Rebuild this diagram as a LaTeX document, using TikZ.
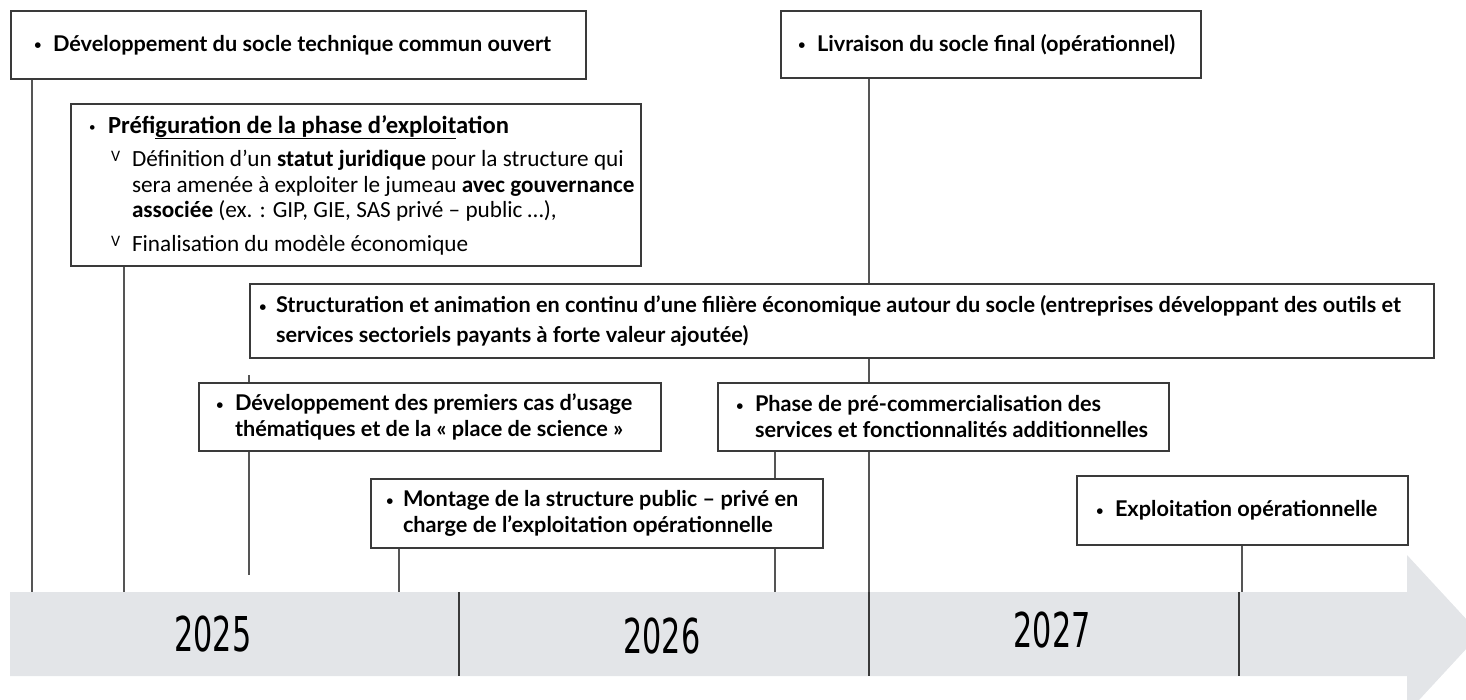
\documentclass[tikz,border=0pt]{standalone}
\usepackage{fontspec}
\setmainfont{Lato}
\newfontfamily\calib{Carlito}
\newfontfamily\yearfont{DejaVu Sans}[FakeStretch=0.63]
\usetikzlibrary{calc}
\definecolor{axisgray}{HTML}{E3E5E8}
\definecolor{framecol}{HTML}{3A3A3A}
\definecolor{conncol}{HTML}{555555}
\pgfdeclarelayer{bg}
\pgfsetlayers{bg,main}
\tikzset{
 box/.style={draw=framecol, line width=2pt, fill=white, anchor=north west, inner ysep=0pt, align=flush left, font=\fontsize{21.7}{26}\selectfont\bfseries},
 link/.style={draw=conncol, line width=1.4pt},
 divider/.style={draw=framecol, line width=1.4pt},
 yearlbl/.style={font=\yearfont\fontsize{48}{48}\selectfont, text=black, inner sep=0pt}
}
\newcommand\bul{\makebox[20pt][l]{\hspace*{1pt}\raisebox{1.5pt}{\fontsize{13}{13}\selectfont•}}}
\newcommand\bulS{\makebox[18pt][l]{\hspace*{1pt}\raisebox{1.5pt}{\fontsize{13}{13}\selectfont•}}}
\newcommand\chk{\raisebox{5pt}{\fontsize{16}{16}\selectfont V}}
\begin{document}
\begin{tikzpicture}[x=1pt,y=-1pt]
\useasboundingbox (0,0) rectangle (1466,699);

% boxes
\node[box, inner xsep=22pt, text width=531pt, minimum height=68pt] (A) at (10,10)
 {\bul Développement du socle technique commun ouvert};
\node[box, inner xsep=0pt, text width=570pt, minimum height=162pt,
      font=\calib\fontsize{23.2}{25.5}\selectfont] (B) at (70,103)
 {\hspace*{17pt}\bul{\fontsize{24.6}{25}\selectfont\textbf{Préfi\underline{guration de la phase d’exploit}ation}}\\[8pt]
  \hspace*{40pt}\makebox[21pt][l]{\chk}Définition d’un \textbf{statut juridique} pour la structure qui\\
  \hspace*{61pt}sera amenée à exploiter le jumeau \textbf{avec gouvernance}\\
  \hspace*{61pt}\textbf{associée} (ex. : GIP, GIE, SAS privé – public …),\\[8pt]
  \hspace*{40pt}\makebox[21pt][l]{\chk}Finalisation du modèle économique};
\node[box, inner xsep=16pt, text width=388pt, minimum height=67pt] (C) at (780,10)
 {\bul Livraison du socle final (opérationnel)};
\node[box, inner xsep=8pt, text width=1168pt, minimum height=74pt,
      font=\fontsize{21.7}{30}\selectfont\bfseries] (S) at (249,283)
 {\bulS Structuration et animation en continu d’une filière économique autour du socle (entreprises développant des outils et\\
  \hspace*{18pt}services sectoriels payants à forte valeur ajoutée)};
\node[box, inner xsep=16pt, text width=430pt, minimum height=68pt] (D) at (198,382)
 {\bul Développement des premiers cas d’usage\\
  \hspace*{20pt}thématiques et de la « place de science »};
\node[box, inner xsep=17pt, text width=417pt, minimum height=68pt] (P) at (717,382)
 {\bul Phase de pré-commercialisation des\\
  \hspace*{20pt}services et fonctionnalités additionnelles};
\node[box, inner xsep=14pt, text width=424pt, minimum height=69pt] (M) at (370,478)
 {\bulS Montage de la structure public – privé en\\
  \hspace*{18pt}charge de l’exploitation opérationnelle};
\node[box, inner xsep=18pt, text width=295pt, minimum height=69pt] (E) at (1076,475)
 {\bul Exploitation opérationnelle};

% years
\node[yearlbl] (Y1) at (213,634) {2025};
\node[yearlbl] (Y2) at (662,636) {2026};
\node[yearlbl] (Y3) at (1052,630) {2027};

% axis coordinates
\coordinate (tA) at (32,592);
\coordinate (tB) at (124,592);
\coordinate (sTop) at (249,375);
\coordinate (sBot) at (249,575);
\coordinate (tM) at (399,592);
\coordinate (tP) at (775,592);
\coordinate (tC) at (869,592);
\coordinate (tE) at (1242,592);
\coordinate (d1a) at (459,592); \coordinate (d1b) at (459,676);
\coordinate (d2a) at (869,592); \coordinate (d2b) at (869,676);
\coordinate (d3a) at (1239,592); \coordinate (d3b) at (1239,676);

\begin{pgfonlayer}{bg}
 \fill[axisgray] (10,592) -- (1407,592) -- (1407,555) -- (1480,634) -- (1407,713) -- (1407,676) -- (10,676) -- cycle;
 \draw[link] (A.south west -| tA) -- (tA);
 \draw[link] (B.south west -| tB) -- (tB);
 \draw[link] (sTop) -- (sBot);
 \draw[link] (M.south west -| tM) -- (tM);
 \draw[link] (P.south west -| tP) -- (tP);
 \draw[link] (C.south west -| tC) -- (tC);
 \draw[link] (E.south west -| tE) -- (tE);
 \draw[divider] (d1a) -- (d1b);
 \draw[divider] (d2a) -- (d2b);
 \draw[divider] (d3a) -- (d3b);
\end{pgfonlayer}
\end{tikzpicture}
\end{document}
